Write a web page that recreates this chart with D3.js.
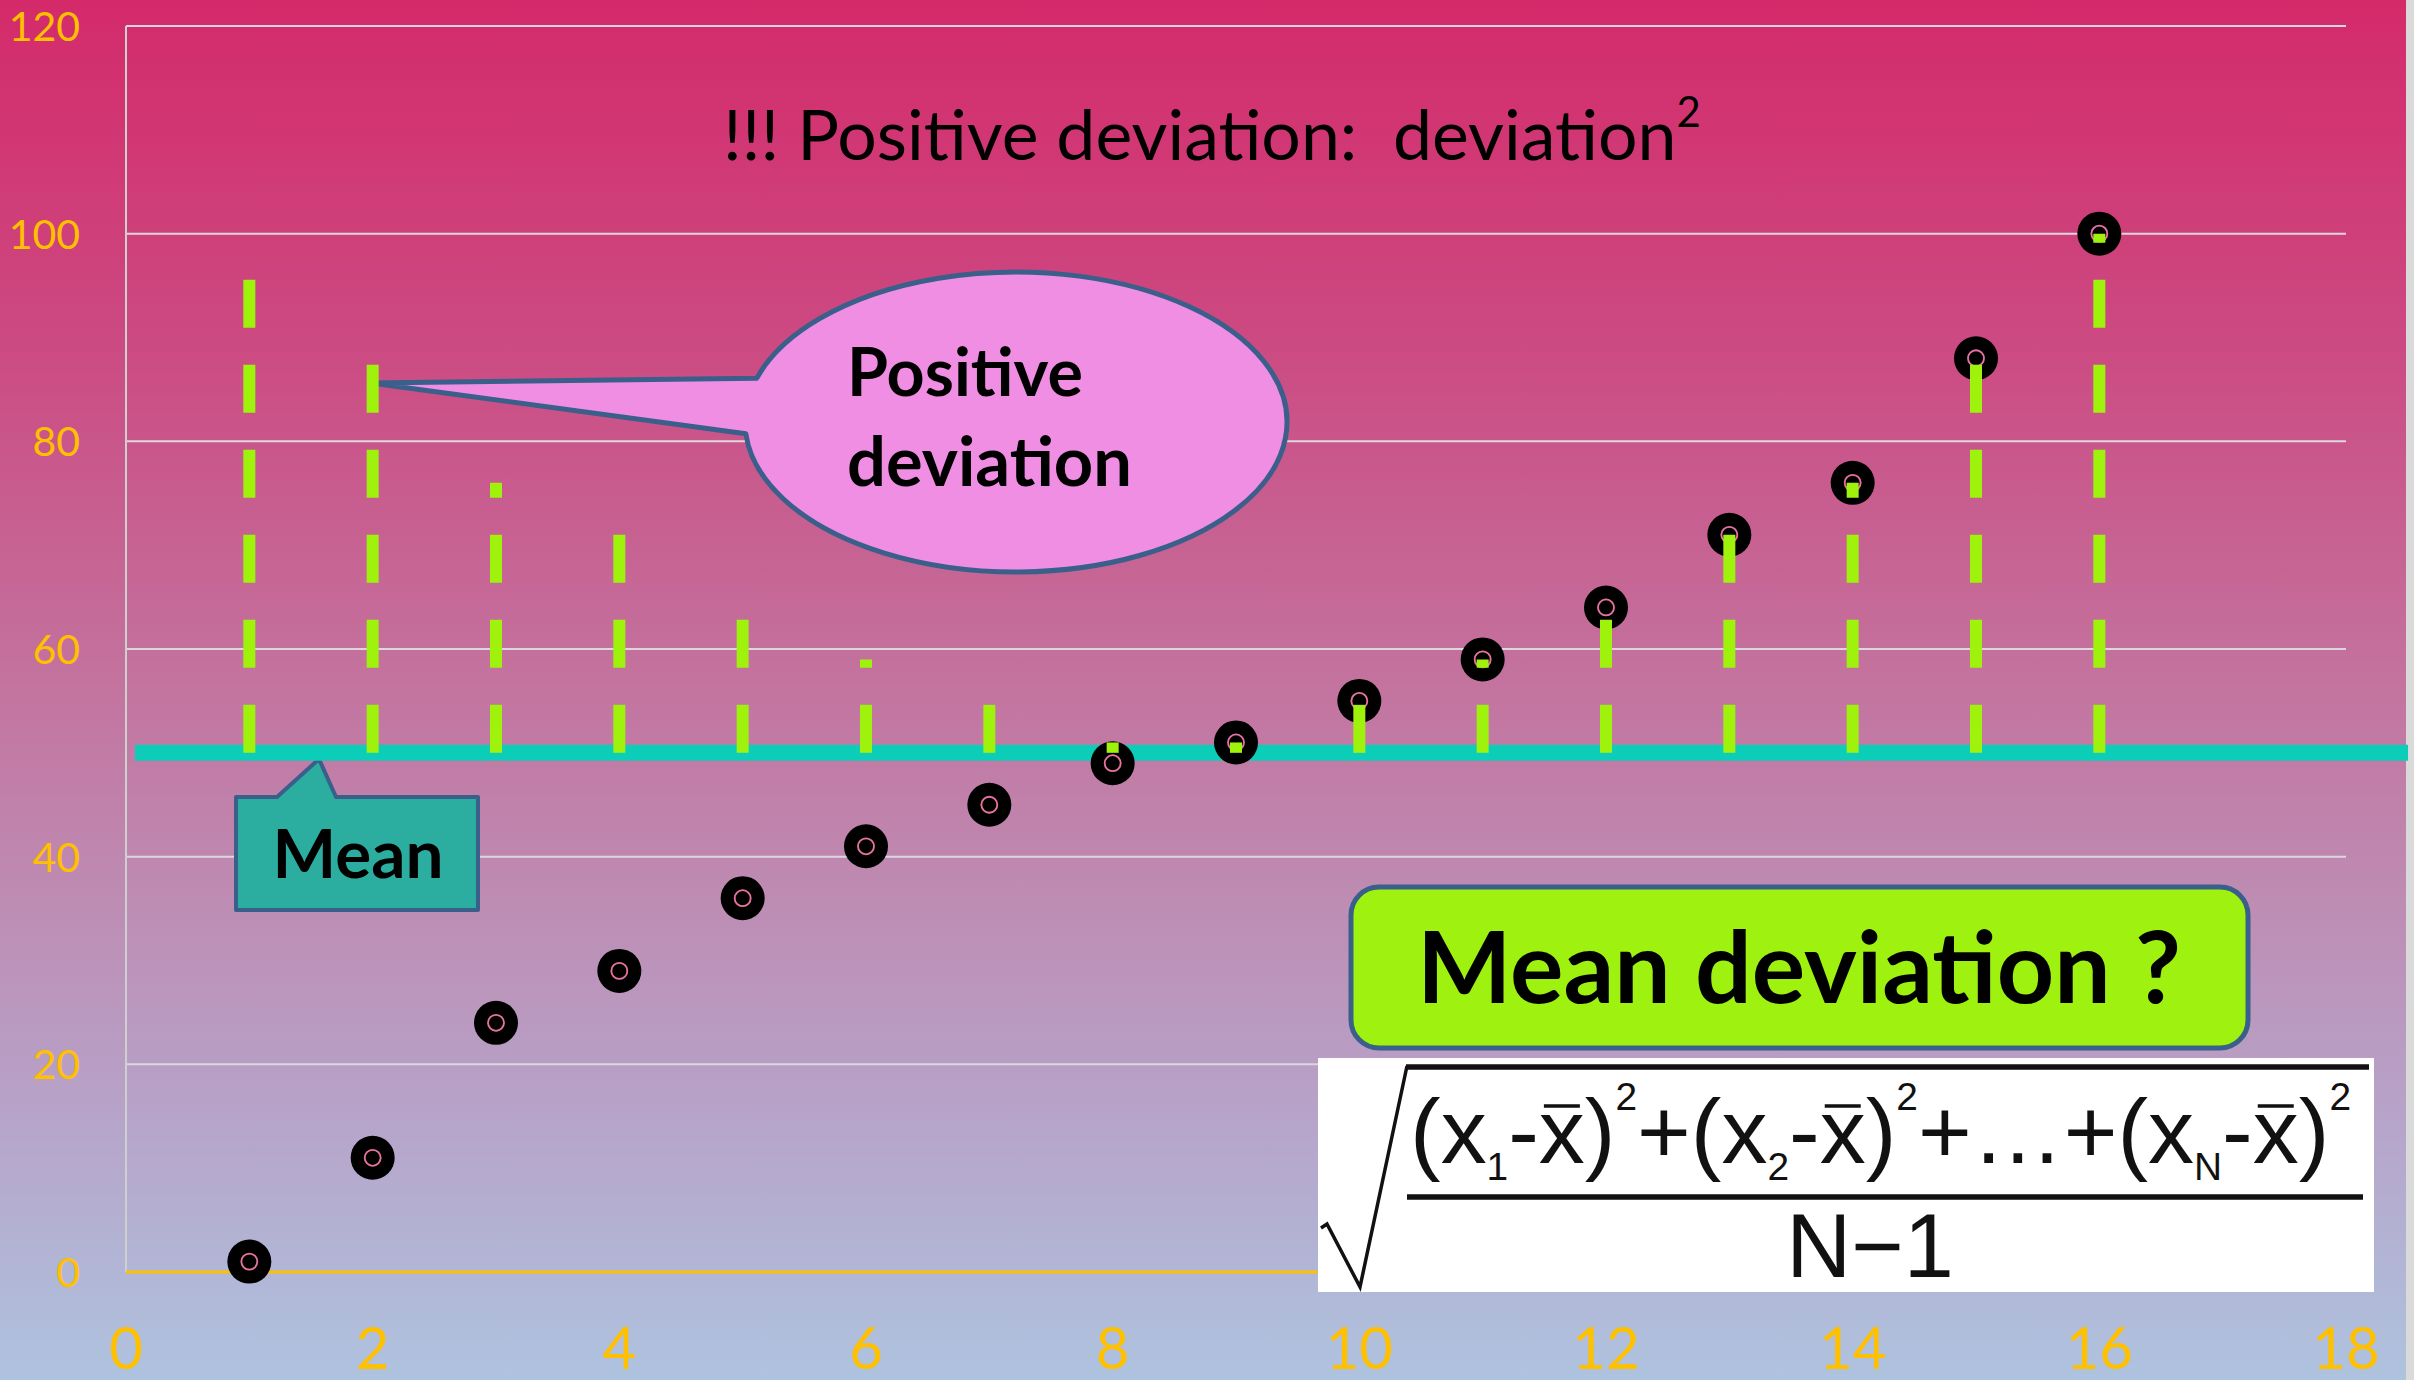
<!DOCTYPE html>
<html>
<head>
<meta charset="utf-8">
<script src="https://cdnjs.cloudflare.com/ajax/libs/d3/7.8.5/d3.min.js"></script>
<style>
    html, body { margin: 0; padding: 0; background: #ffffff; }
    svg { display: block; }
    text { font-family: Lato, "Open Sans", sans-serif; }
</style>
</head>
<body>
<div id="chart-area"></div>
<script>
// chart values
var xValues = [1, 2, 3, 4, 5, 6, 7, 8, 9, 10, 11, 12, 13, 14, 15, 16];
var yValues = [1, 11, 24, 29, 36, 41, 45, 49, 51, 55, 59, 64, 71, 76, 88, 100];
var xTicks = [0, 2, 4, 6, 8, 10, 12, 14, 16, 18];
var yTicks = [0, 20, 40, 60, 80, 100, 120];

var titleText = "!!! Positive deviation:  deviation";
var titleSup = "2";
var bubbleLines = ["Positive", "deviation"];
var meanLabel = "Mean";
var questionText = "Mean deviation ?";

// numerator of the formula: [text, kind]
var numerParts = [
    ["(", ""], ["x", ""], ["1", "sub"], ["-", ""], ["x", "bar"], [")", ""], ["2", "sup"], ["+", ""],
    ["(", ""], ["x", ""], ["2", "sub"], ["-", ""], ["x", "bar"], [")", ""], ["2", "sup"], ["+", ""],
    ["\u2026", ""], ["+", ""],
    ["(", ""], ["x", ""], ["N", "sub"], ["-", ""], ["x", "bar"], [")", ""], ["2", "sup"]
];
var denomText = "N\u22121";

var width = 2414,
    height = 1380;

var meanValue = d3.mean(yValues);

var svg = d3.select("#chart-area")
    .append("svg")
    .attr("width", width)
    .attr("height", height);

// background gradient
var defs = svg.append("defs");
var grad = defs.append("linearGradient")
    .attr("id", "bg")
    .attr("gradientUnits", "userSpaceOnUse")
    .attr("x1", 0).attr("y1", 0)
    .attr("x2", 0).attr("y2", height);
[[0, "#d42a6a"], [0.25, "#cc4a82"], [0.5, "#c3749f"], [0.67, "#bd8fb6"], [0.8, "#b7a2c8"], [1, "#aec3df"]]
    .forEach(function(s) {
        grad.append("stop").attr("offset", s[0]).attr("stop-color", s[1]);
    });

svg.append("rect")
    .attr("width", width)
    .attr("height", height)
    .attr("fill", "url(#bg)");

svg.append("rect")
    .attr("x", 2406)
    .attr("width", 8)
    .attr("height", height)
    .attr("fill", "#dadada");

var x = d3.scaleLinear().domain([0, 18]).range([126, 2346]);
var y = d3.scaleLinear().domain([0, 120]).range([1272, 26]);

// gridlines
svg.append("g")
    .selectAll("line")
    .data(yTicks.filter(function(d) { return d > 0; }))
    .enter().append("line")
    .attr("x1", x(0))
    .attr("x2", x(18))
    .attr("y1", function(d) { return y(d); })
    .attr("y2", function(d) { return y(d); })
    .attr("stroke", "#dcd6de")
    .attr("stroke-width", 2);

// left axis line
svg.append("line")
    .attr("x1", x(0)).attr("x2", x(0))
    .attr("y1", y(120)).attr("y2", y(0))
    .attr("stroke", "#cfcfcf")
    .attr("stroke-width", 2);

// zero line
svg.append("line")
    .attr("x1", x(0)).attr("x2", x(18))
    .attr("y1", y(0)).attr("y2", y(0))
    .attr("stroke", "#ffc000")
    .attr("stroke-width", 3);

// tick labels
svg.append("g")
    .selectAll("text")
    .data(yTicks)
    .enter().append("text")
    .attr("x", 80)
    .attr("y", function(d) { return y(d) + 15; })
    .attr("text-anchor", "end")
    .attr("font-size", 41)
    .attr("fill", "#ffc000")
    .text(function(d) { return d; });

svg.append("g")
    .selectAll("text")
    .data(xTicks)
    .enter().append("text")
    .attr("x", function(d) { return x(d); })
    .attr("y", 1369)
    .attr("text-anchor", "middle")
    .attr("font-size", 58)
    .attr("fill", "#ffc000")
    .text(function(d) { return d; });

// title
var title = svg.append("text")
    .attr("x", 723)
    .attr("y", 160)
    .attr("font-size", 66)
    .attr("fill", "#000")
    .style("white-space", "pre");
title.append("tspan").text(titleText);
title.append("tspan")
    .attr("font-size", "0.6em")
    .attr("dy", "-0.78em")
    .text(titleSup);
fitWidth(title, 978);

// mean callout
var meanBox = svg.append("g");
meanBox.append("path")
    .attr("d", "M236,797 L277,797 L319,759 L336,797 L478,797 L478,910 L236,910 Z")
    .attr("fill", "#2baea0")
    .attr("stroke", "#3a5f8a")
    .attr("stroke-width", 4)
    .attr("stroke-linejoin", "round");
var meanText = meanBox.append("text")
    .attr("x", 358)
    .attr("y", 878)
    .attr("text-anchor", "middle")
    .attr("font-size", 66)
    .attr("font-weight", "bold")
    .attr("fill", "#000")
    .text(meanLabel);
fitWidth(meanText, 171);

// speech bubble
var cx = 1016, cy = 422, rx = 271, ry = 150;
var t1 = -163 * Math.PI / 180,
    t2 = 175.5 * Math.PI / 180;
var p1 = [cx + rx * Math.cos(t1), cy + ry * Math.sin(t1)],
    p2 = [cx + rx * Math.cos(t2), cy + ry * Math.sin(t2)];
svg.append("path")
    .attr("d", "M371,383 L" + p1 + " A" + rx + "," + ry + " 0 1 1 " + p2 + " Z")
    .attr("fill", "#f08ee4")
    .attr("stroke", "#3a5f8a")
    .attr("stroke-width", 5)
    .attr("stroke-linejoin", "round");

var bubble = svg.append("g");
bubbleLines.forEach(function(t, i) {
    var tx = bubble.append("text")
        .attr("x", 847)
        .attr("y", 396 + i * 90)
        .attr("font-size", 66)
        .attr("font-weight", "bold")
        .attr("fill", "#000")
        .text(t);
    fitWidth(tx, i == 0 ? 236 : 285);
});

// mean line
svg.append("line")
    .attr("x1", 135)
    .attr("x2", 2408)
    .attr("y1", y(meanValue))
    .attr("y2", y(meanValue))
    .attr("stroke", "#0ccdb8")
    .attr("stroke-width", 16);

// points
var pts = svg.append("g")
    .selectAll(".pt")
    .data(xValues)
    .enter().append("g")
    .attr("class", "pt")
    .attr("transform", function(d, i) { return "translate(" + x(d) + "," + y(yValues[i]) + ")"; });
pts.append("circle")
    .attr("r", 22)
    .attr("fill", "#000");
pts.append("circle")
    .attr("r", 8)
    .attr("fill", "none")
    .attr("stroke", "url(#bg)")
    .attr("stroke-width", 1.8);
pts.append("circle")
    .attr("r", 8)
    .attr("fill", "none")
    .attr("stroke", "#ffffff")
    .attr("stroke-opacity", 0.35)
    .attr("stroke-width", 1.8);

// positive deviations, drawn up from the mean
svg.append("g")
    .selectAll("line")
    .data(xValues)
    .enter().append("line")
    .attr("x1", function(d) { return x(d); })
    .attr("x2", function(d) { return x(d); })
    .attr("y1", y(meanValue))
    .attr("y2", function(d, i) { return y(meanValue + Math.abs(yValues[i] - meanValue)); })
    .attr("stroke", "#9ef20c")
    .attr("stroke-width", 12)
    .attr("stroke-dasharray", "48,37");

// question box
svg.append("rect")
    .attr("x", 1351)
    .attr("y", 887)
    .attr("width", 897)
    .attr("height", 161)
    .attr("rx", 28)
    .attr("fill", "#9ff20f")
    .attr("stroke", "#3a5f8a")
    .attr("stroke-width", 5);
var q = svg.append("text")
    .attr("x", 1799)
    .attr("y", 1003)
    .attr("text-anchor", "middle")
    .attr("font-size", 92)
    .attr("font-weight", "bold")
    .attr("fill", "#000")
    .text(questionText);
fitWidth(q, 764);

// formula
var f = svg.append("g");
f.append("rect")
    .attr("x", 1318)
    .attr("y", 1058)
    .attr("width", 1056)
    .attr("height", 234)
    .attr("fill", "#ffffff");
f.append("path")
    .attr("d", "M1321,1228 L1327,1224 L1360,1287 L1407,1066")
    .attr("fill", "none")
    .attr("stroke", "#111")
    .attr("stroke-width", 3.5);
f.append("line")
    .attr("x1", 1406).attr("x2", 2369)
    .attr("y1", 1067).attr("y2", 1067)
    .attr("stroke", "#111")
    .attr("stroke-width", 5.5);
f.append("line")
    .attr("x1", 1407).attr("x2", 2363)
    .attr("y1", 1197).attr("y2", 1197)
    .attr("stroke", "#111")
    .attr("stroke-width", 5.5);

var numer = f.append("text")
    .attr("x", 1410)
    .attr("y", 1163)
    .attr("font-family", "'Liberation Sans', Arial, sans-serif")
    .attr("font-size", 90)
    .attr("fill", "#111");
var cur = 0, barIdx = [], count = 0;
numerParts.forEach(function(p) {
    var target = p[1] == "sub" ? 17 : (p[1] == "sup" ? -53 : 0);
    var ts = numer.append("tspan")
        .attr("dy", target - cur)
        .style("font-family", "'Liberation Sans', Arial, sans-serif")
        .text(p[0]);
    if (p[1] == "sub" || p[1] == "sup") ts.attr("font-size", 38);
    if (p[1] == "bar") barIdx.push(count);
    cur = target;
    count += p[0].length;
});
numer.attr("textLength", 941).attr("lengthAdjust", "spacingAndGlyphs");

barIdx.forEach(function(ci) {
    var e = numer.node().getExtentOfChar(ci);
    f.append("line")
        .attr("x1", e.x + 5).attr("x2", e.x + e.width - 5)
        .attr("y1", 1106).attr("y2", 1106)
        .attr("stroke", "#111")
        .attr("stroke-width", 3.5);
});

f.append("text")
    .attr("x", 1870)
    .attr("y", 1277)
    .attr("text-anchor", "middle")
    .attr("font-family", "'Liberation Sans', Arial, sans-serif")
    .style("font-family", "'Liberation Sans', Arial, sans-serif")
    .attr("font-size", 90)
    .attr("fill", "#111")
    .text(denomText);

function fitWidth(sel, target) {
    var size = parseFloat(sel.attr("font-size"));
    var w = sel.node().getComputedTextLength();
    if (w > 0) sel.attr("font-size", size * target / w);
}
</script>
</body>
</html>
